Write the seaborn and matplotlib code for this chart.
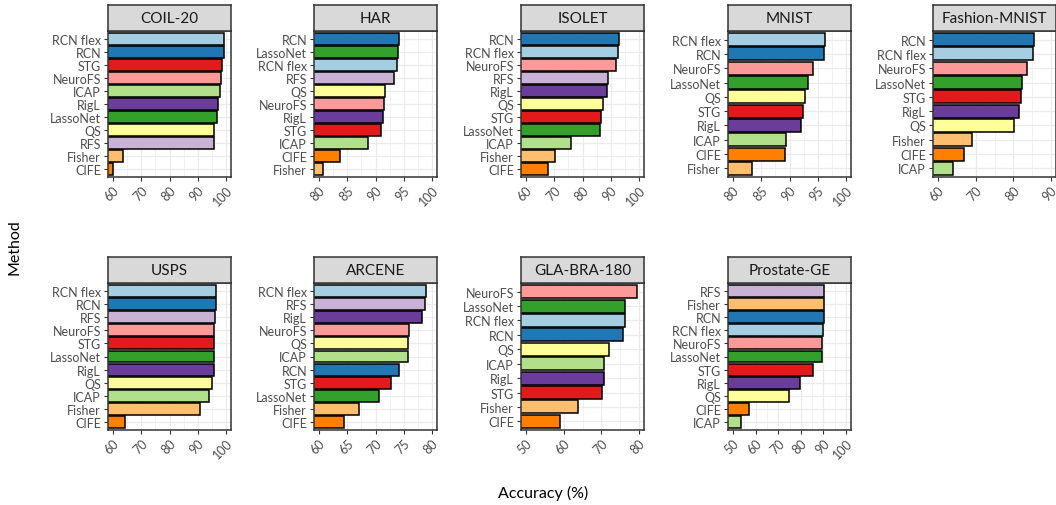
import numpy as np
import pandas as pd
import matplotlib
matplotlib.use("Agg")
import matplotlib.pyplot as plt
import seaborn as sns

# Methods and their accuracy (%) per dataset, same order as `methods`
methods = ["RCN flex", "RCN", "ICAP", "LassoNet", "NeuroFS", "STG",
           "Fisher", "CIFE", "RFS", "RigL", "QS"]

coil20 = [99.3, 99.2, 98.0, 96.9, 98.1, 98.6, 63.7, 60.1, 95.6, 97.0, 95.7]
har = [93.8, 94.2, 88.6, 94.0, 91.5, 91.0, 80.7, 83.7, 93.2, 91.4, 91.6]
isolet = [92.6, 92.8, 76.1, 86.3, 91.7, 86.4, 70.1, 67.8, 88.9, 88.6, 87.1]
mnist = [96.2, 96.1, 89.3, 93.2, 94.1, 92.4, 83.3, 89.2, np.nan, 92.1, 92.7]
fashion = [85.3, 85.5, 63.9, 82.3, 83.7, 82.1, 68.9, 67.0, np.nan, 81.5, 80.3]
usps = [96.6, 96.5, 93.8, 95.7, 95.9, 95.8, 90.8, 64.3, 96.0, 95.6, 95.2]
arcene = [79.0, 74.1, 75.7, 70.7, 76.0, 72.7, 67.0, 64.5, 78.8, 78.3, 75.8]
glabra = [76.2, 75.7, 70.7, 76.4, 79.4, 70.1, 63.8, 58.9, np.nan, 70.6, 72.1]
prostate = [89.6, 90.2, 53.7, 89.3, 89.4, 85.3, 90.3, 57.2, 90.4, 79.5, 74.8]

datasets = ["COIL-20", "HAR", "ISOLET", "MNIST", "Fashion-MNIST",
            "USPS", "ARCENE", "GLA-BRA-180", "Prostate-GE"]
values = [coil20, har, isolet, mnist, fashion, usps, arcene, glabra, prostate]

# axis ticks per panel (free x scales)
ticks = [[60, 70, 80, 90, 100], [80, 85, 90, 95, 100], [60, 70, 80, 90, 100],
         [80, 85, 90, 95, 100], [60, 70, 80, 90], [60, 70, 80, 90, 100],
         [60, 65, 70, 75, 80], [50, 60, 70, 80], [50, 60, 70, 80, 90, 100]]

rows = []
for ds, vals in zip(datasets, values):
    for m, v in zip(methods, vals):
        if not np.isnan(v):
            rows.append({"dataset": ds, "method": m, "acc": v})
df = pd.DataFrame(rows)

pal = dict(zip(methods, sns.color_palette("Paired", 11)))

sns.set_style("white")
plt.rcParams["font.family"] = ["Lato", "DejaVu Sans"]

W, H = 1056, 506
fig = plt.figure(figsize=(W / 100, H / 100), dpi=100)

col_left = [108, 314, 521, 728, 933]
pw = 123
row_strip = [(6, 32, 178), (258, 284, 431)]

for i, ds in enumerate(datasets):
    r, c = divmod(i, 5)
    st, pt, pb = row_strip[r]
    x0 = col_left[c]
    ax = fig.add_axes([x0 / W, 1 - pb / H, pw / W, (pb - pt) / H])
    sub = df[df.dataset == ds].sort_values("acc", ascending=False)
    order = list(sub.method)
    sns.barplot(data=sub, x="acc", y="method", hue="method", order=order,
                hue_order=order, palette=pal, orient="h", width=0.9,
                saturation=1, edgecolor="black", linewidth=1.1,
                legend=False, ax=ax)
    n = len(order)
    t = ticks[i]
    lo, hi = t[0], t[-1]
    step = t[1] - t[0]
    pad = (hi - lo) * 0.044
    ax.set_xticks(t)
    ax.set_xticks([v + step / 2 for v in t[:-1]], minor=True)
    ax.set_xticklabels([str(v) for v in t], rotation=45, ha="right",
                       va="top", rotation_mode="anchor")
    ax.set_xlim(lo - pad, hi + pad)
    ax.set_ylim(n - 0.4, -0.6)
    ax.grid(True, which="major", color="#EBEBEB", lw=0.9, zorder=0)
    ax.grid(True, which="minor", axis="x", color="#EBEBEB", lw=0.5, zorder=0)
    ax.set_axisbelow(True)
    ax.tick_params(axis="both", which="major", length=3, width=0.8,
                   color="#333333", labelcolor="#4D4D4D", labelsize=9, pad=2,
                   bottom=True, left=True)
    ax.tick_params(axis="x", which="minor", length=0)
    for s in ax.spines.values():
        s.set_color("#333333")
        s.set_linewidth(1.1)
    ax.set_xlabel("")
    ax.set_ylabel("")

    # facet strip
    sax = fig.add_axes([x0 / W, 1 - pt / H, pw / W, (pt - st) / H])
    sax.set_facecolor("#D9D9D9")
    sax.set_xticks([])
    sax.set_yticks([])
    for s in sax.spines.values():
        s.set_color("#333333")
        s.set_linewidth(1.1)
    sax.text(0.5, 0.5, ds, ha="center", va="center", fontsize=11,
             color="#1A1A1A", transform=sax.transAxes)

fig.text(14 / W, 1 - 247 / H, "Method", rotation=90, ha="center",
         va="center", fontsize=11.5, color="black")
fig.text(543 / W, 1 - 493 / H, "Accuracy (%)", ha="center", va="center",
         fontsize=11.5, color="black")

fig.savefig("out.png", dpi=100)
